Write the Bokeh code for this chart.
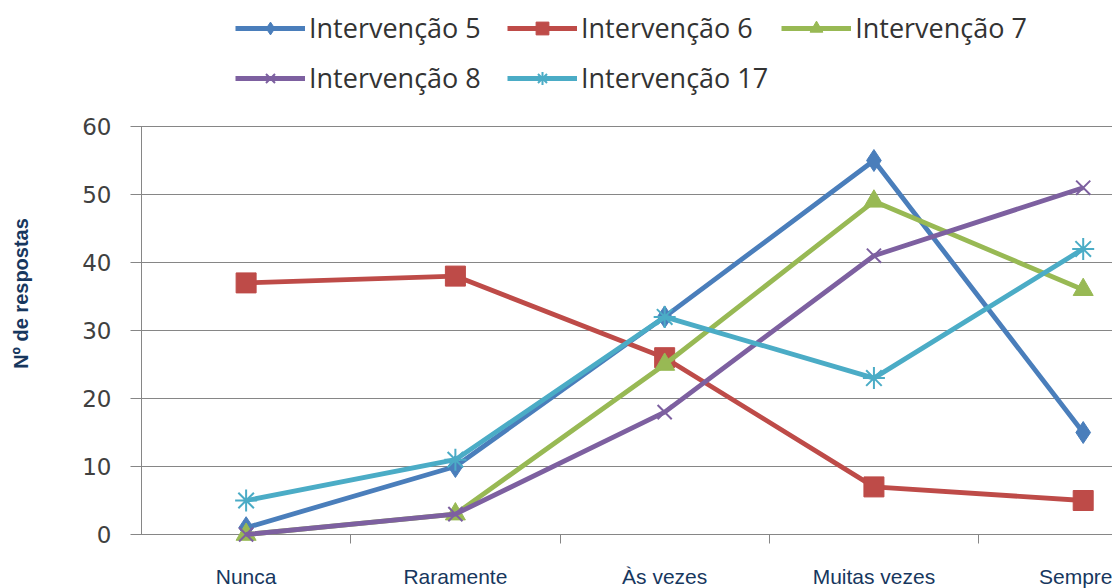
from math import pi
from bokeh.plotting import figure
from bokeh.models import (Legend, LegendItem, FixedTicker, Range1d, LinearAxis,
                          Label)
from bokeh.embed import file_html
from bokeh.resources import INLINE

# Answer categories (x) and number of answers per intervention
categories = ["Nunca", "Raramente", "Às vezes", "Muitas vezes", "Sempre"]
interv_5 = [1, 10, 32, 55, 15]
interv_6 = [37, 38, 26, 7, 5]
interv_7 = [0, 3, 25, 49, 36]
interv_8 = [0, 3, 18, 41, 51]
interv_17 = [5, 11, 32, 23, 42]
y_ticks = [0, 10, 20, 30, 40, 50, 60]

series = [
    ("Intervenção 5", interv_5, "#4A7EBB", "diamond", 22),
    ("Intervenção 6", interv_6, "#BE4B48", "square", 20),
    ("Intervenção 7", interv_7, "#98B954", "triangle", 20),
    ("Intervenção 8", interv_8, "#7D60A0", "x", 20),
    ("Intervenção 17", interv_17, "#4BACC6", "asterisk", 22),
]

xs = list(range(len(categories)))
x_start, x_end = -0.5, 4.14          # extent of the value area
y_start, y_end = y_ticks[0], y_ticks[-1]
GRID = "#868686"

# The frame covers the whole canvas; both axes are pinned to the edges of the
# value area so the legend and the axis title can sit around it.
p = figure(width=1112, height=588, output_backend="svg", toolbar_location=None,
           x_range=Range1d(-1.1737, x_end), y_range=Range1d(-7.94, 78.53),
           x_axis_location=None, y_axis_location=None,
           min_border_left=0, min_border_right=0, min_border_top=0,
           min_border_bottom=0)
p.outline_line_color = None
p.background_fill_color = "white"
p.border_fill_color = "white"
p.xgrid.visible = False
p.ygrid.visible = False

items = []
for name, vals, color, marker, size in series:
    ln = p.line(xs, vals, line_color=color, line_width=4.8)
    if marker in ("x", "asterisk"):
        sc = p.scatter(xs, vals, marker=marker, size=size, line_color=color,
                       line_width=2)
    else:
        sc = p.scatter(xs, vals, marker=marker, size=size, fill_color=color,
                       line_color=color, line_width=1)
    items.append(LegendItem(label=name, renderers=[ln, sc]))

# y axis at the left edge of the value area; its long inward ticks form the
# horizontal grid lines
yaxis = LinearAxis(ticker=FixedTicker(ticks=y_ticks, minor_ticks=[]),
                   fixed_location=x_start, bounds=(y_start, y_end),
                   level="underlay")
yaxis.axis_line_color = GRID
yaxis.major_tick_line_color = GRID
yaxis.major_tick_line_width = 1
yaxis.major_tick_out = 11
yaxis.major_tick_in = 971
yaxis.minor_tick_line_color = None
yaxis.major_label_text_font = "DejaVu Sans"
yaxis.major_label_text_font_size = "23px"
yaxis.major_label_text_color = "#404040"
yaxis.major_label_standoff = 19
p.add_layout(yaxis, "left")

# x axis at value 0: labels at category centres, short ticks between them
xaxis = LinearAxis(ticker=FixedTicker(ticks=xs,
                                      minor_ticks=[i + 0.5 for i in xs[:-1]]),
                   fixed_location=y_start, bounds=(x_start, x_end),
                   level="underlay")
xaxis.major_label_overrides = {i: c for i, c in enumerate(categories)}
xaxis.axis_line_color = GRID
xaxis.major_tick_line_color = None
xaxis.major_tick_out = 0
xaxis.major_tick_in = 0
xaxis.minor_tick_line_color = GRID
xaxis.minor_tick_out = 9
xaxis.minor_tick_in = 0
xaxis.major_label_text_font = "Liberation Sans"
xaxis.major_label_text_font_size = "21px"
xaxis.major_label_text_color = "#17375E"
xaxis.major_label_standoff = 21
p.add_layout(xaxis, "below")

# y axis title
p.add_layout(Label(x=20, y=295, x_units="screen", y_units="screen",
                   text="Nº de respostas", angle=pi / 2,
                   text_align="center", text_baseline="middle",
                   text_font="Liberation Sans", text_font_style="bold",
                   text_font_size="20px", text_color="#17375E"))

legend = Legend(items=items, orientation="horizontal", ncols=3,
                location=(235, 492), padding=0, margin=0, spacing=13,
                glyph_width=70, glyph_height=32, label_standoff=4,
                label_width=185, label_text_font="Open Sans",
                label_text_font_size="27px", label_text_color="#333333",
                border_line_color=None, background_fill_alpha=0)
p.add_layout(legend, "center")

open("out.html", "w").write(file_html(p, INLINE))
